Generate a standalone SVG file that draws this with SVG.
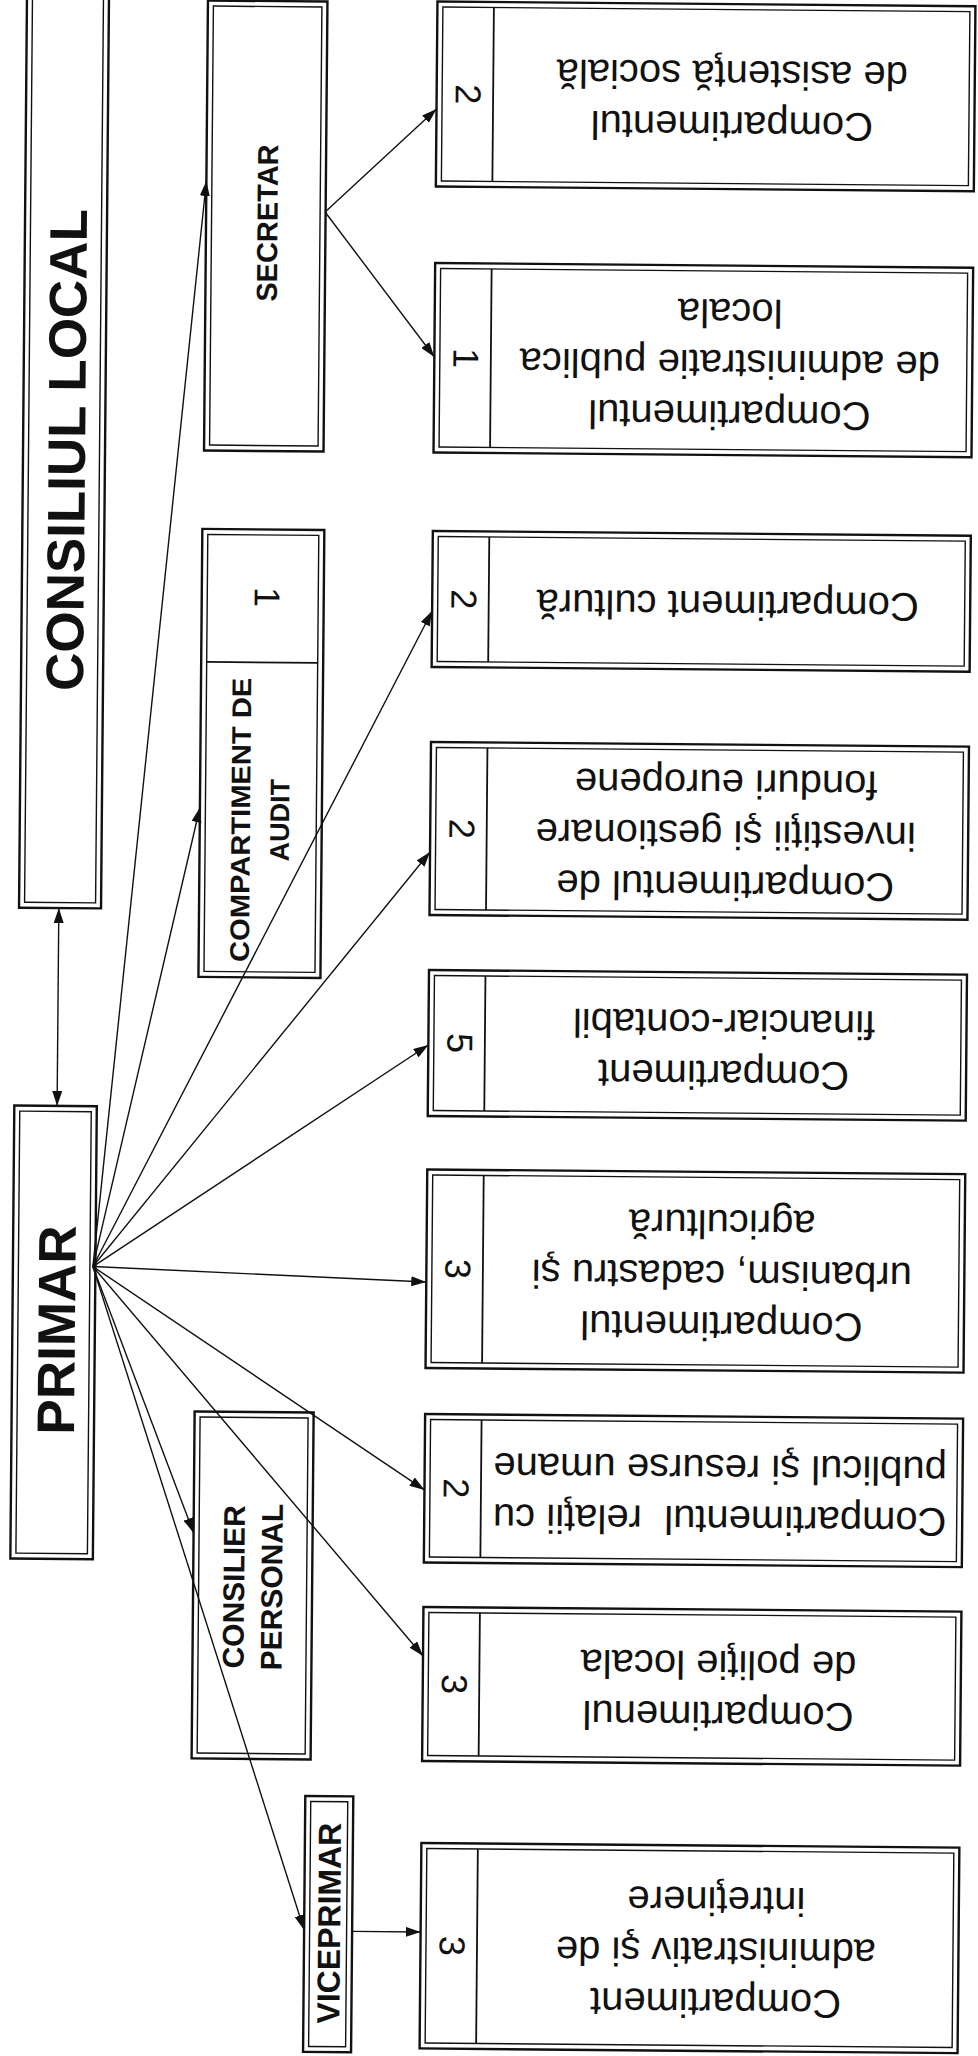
<svg xmlns="http://www.w3.org/2000/svg" width="978" height="2056" viewBox="0 0 978 2056">
<style>
.o{fill:#fff;stroke:#111;stroke-width:2.4}
.i{fill:none;stroke:#111;stroke-width:1.4}
.d{stroke:#111;stroke-width:1.8}
.t{font-family:"Liberation Sans",Arial,sans-serif;font-size:40px;fill:#111;text-anchor:middle;white-space:pre}
.n{font-family:"Liberation Sans",Arial,sans-serif;font-size:36px;fill:#111;text-anchor:middle}
.h{font-family:"Liberation Sans",Arial,sans-serif;font-weight:bold;fill:#111;text-anchor:middle}
.c{fill:none;stroke:#111;stroke-width:1.4;marker-end:url(#a)}
</style>
<defs>
<marker id="a" markerWidth="16" markerHeight="10" refX="15" refY="5" orient="auto-start-reverse" markerUnits="userSpaceOnUse"><path d="M0,0 L15,5 L0,10 z" fill="#111"/></marker>
</defs>
<rect x="0" y="0" width="978" height="2056" fill="#fff"/>
<g transform="rotate(0.5 489 1028)">
<g id="consiliul-local">
<rect class="o" x="18" y="-6" width="82" height="917.8"/>
<rect class="i" x="23.5" y="-0.5" width="71" height="906.8"/>
<text class="h" font-size="53" transform="translate(61 453.7) rotate(-90)" x="0" y="19">CONSILIUL LOCAL</text>
</g>
<g id="primar">
<rect class="o" x="15" y="1109.7" width="82.5" height="453"/>
<rect class="i" x="20.5" y="1115.2" width="71.5" height="442"/>
<text class="h" font-size="53" transform="translate(58.6 1333.7) rotate(-90)" x="0" y="19">PRIMAR</text>
</g>
<g id="secretar">
<rect class="o" x="199" y="3" width="119.5" height="450"/>
<rect class="i" x="204.5" y="8.5" width="108.5" height="439"/>
<text class="h" font-size="29" transform="translate(260 225) rotate(-90)" x="0" y="10.4">SECRETAR</text>
</g>
<g id="audit">
<rect class="o" x="198" y="531.4" width="122" height="448"/>
<rect class="i" x="203.5" y="536.9" width="111" height="437"/>
<line class="d" x1="203.5" y1="664.4" x2="314.5" y2="664.4"/>
<text class="n" transform="translate(262 599) rotate(90)" x="0" y="11">1</text>
<text class="h" font-size="27" transform="translate(259 822) rotate(-90)"><tspan x="0" y="-10.8" textLength="284" lengthAdjust="spacingAndGlyphs">COMPARTIMENT DE</tspan><tspan x="0" y="28.2">AUDIT</tspan></text>
</g>
<g id="consilier-personal">
<rect class="o" x="198" y="1414" width="119" height="347"/>
<rect class="i" x="203.5" y="1419.5" width="108" height="336"/>
<text class="h" font-size="30" transform="translate(258 1589) rotate(-90)"><tspan x="0" y="-9">CONSILIER</tspan><tspan x="0" y="29">PERSONAL</tspan></text>
</g>
<g id="viceprimar">
<rect class="o" x="312" y="1797.5" width="48" height="256"/>
<rect class="i" x="317.5" y="1803" width="37" height="245"/>
<text class="h" font-size="32" transform="translate(336 1924.5) rotate(-90)" x="0" y="12">VICEPRIMAR</text>
</g>
<g id="c-asistenta">
<rect class="o" x="428.5" y="2" width="538" height="185"/>
<rect class="i" x="434" y="7.5" width="527" height="174"/>
<line class="d" x1="485" y1="7.5" x2="485" y2="181.5"/>
<text class="n" transform="translate(460.5 94.5) rotate(90)" x="0" y="12.9">2</text>
<g transform="rotate(180 724 94.5)"><text class="t"><tspan x="724" y="79">Compartimentul</tspan><tspan x="724" y="130">de asistenţă socială</tspan></text></g>
</g>
<g id="c-administratie-publica">
<rect class="o" x="428.5" y="263.5" width="538" height="189.5"/>
<rect class="i" x="434" y="269" width="527" height="178.5"/>
<line class="d" x1="485" y1="269" x2="485" y2="447.5"/>
<text class="n" transform="translate(460.5 358.25) rotate(90)" x="0" y="12.9">1</text>
<g transform="rotate(180 724 358.25)"><text class="t"><tspan x="724" y="317.25">Compartimentul</tspan><tspan x="724" y="368.25">de administratie publica</tspan><tspan x="724" y="419.25">locala</tspan></text></g>
</g>
<g id="c-cultura">
<rect class="o" x="428.5" y="531.5" width="538" height="136"/>
<rect class="i" x="434" y="537" width="527" height="125"/>
<line class="d" x1="485" y1="537" x2="485" y2="662"/>
<text class="n" transform="translate(460.5 599.5) rotate(90)" x="0" y="12.9">2</text>
<g transform="rotate(180 724 599.5)"><text class="t"><tspan x="724" y="609.5">Compartiment cultură</tspan></text></g>
</g>
<g id="c-investitii">
<rect class="o" x="428.5" y="742.5" width="538" height="173"/>
<rect class="i" x="434" y="748" width="527" height="162"/>
<line class="d" x1="485" y1="748" x2="485" y2="910"/>
<text class="n" transform="translate(460.5 829) rotate(90)" x="0" y="12.9">2</text>
<g transform="rotate(180 724 829)"><text class="t"><tspan x="724" y="788">Compartimentul de</tspan><tspan x="724" y="839">investiţii şi gestionare</tspan><tspan x="724" y="890">fonduri europene</tspan></text></g>
</g>
<g id="c-financiar">
<rect class="o" x="428.5" y="970.5" width="538" height="146"/>
<rect class="i" x="434" y="976" width="527" height="135"/>
<line class="d" x1="485" y1="976" x2="485" y2="1111"/>
<text class="n" transform="translate(460.5 1043.5) rotate(90)" x="0" y="12.9">5</text>
<g transform="rotate(180 724 1043.5)"><text class="t"><tspan x="724" y="1028">Compartiment</tspan><tspan x="724" y="1079">financiar-contabil</tspan></text></g>
</g>
<g id="c-urbanism">
<rect class="o" x="428.5" y="1170" width="538" height="198.5"/>
<rect class="i" x="434" y="1175.5" width="527" height="187.5"/>
<line class="d" x1="485" y1="1175.5" x2="485" y2="1363"/>
<text class="n" transform="translate(460.5 1269.25) rotate(90)" x="0" y="12.9">3</text>
<g transform="rotate(180 724 1269.25)"><text class="t"><tspan x="724" y="1228.25">Compartimentul</tspan><tspan x="724" y="1279.25">urbanism, cadastru şi</tspan><tspan x="724" y="1330.25">agricultură</tspan></text></g>
</g>
<g id="c-relatii-publicul">
<rect class="o" x="428.5" y="1414.5" width="538" height="148.5"/>
<rect class="i" x="434" y="1420" width="527" height="137.5"/>
<line class="d" x1="485" y1="1420" x2="485" y2="1557.5"/>
<text class="n" transform="translate(460.5 1488.75) rotate(90)" x="0" y="12.9">2</text>
<g transform="rotate(180 724 1488.75)"><text class="t"><tspan x="724" y="1473.25">Compartimentul  relaţii cu</tspan><tspan x="724" y="1524.25">publicul şi resurse umane</tspan></text></g>
</g>
<g id="c-politie">
<rect class="o" x="428.5" y="1607.5" width="538" height="154"/>
<rect class="i" x="434" y="1613" width="527" height="143"/>
<line class="d" x1="485" y1="1613" x2="485" y2="1756"/>
<text class="n" transform="translate(460.5 1684.5) rotate(90)" x="0" y="12.9">3</text>
<g transform="rotate(180 724 1684.5)"><text class="t"><tspan x="724" y="1669">Compartimenul</tspan><tspan x="724" y="1720">de poliţie locala</tspan></text></g>
</g>
<g id="c-administrativ">
<rect class="o" x="428.5" y="1843.5" width="538" height="205.5"/>
<rect class="i" x="434" y="1849" width="527" height="194.5"/>
<line class="d" x1="485" y1="1849" x2="485" y2="2043.5"/>
<text class="n" transform="translate(460.5 1946.25) rotate(90)" x="0" y="12.9">3</text>
<g transform="rotate(180 724 1946.25)"><text class="t"><tspan x="724" y="1905.25">Compartiment</tspan><tspan x="724" y="1956.25">administrativ şi de</tspan><tspan x="724" y="2007.25">intreţinere</tspan></text></g>
</g>
<g id="connectors">
<line class="c" x1="57.8" y1="1109.7" x2="57.8" y2="911.8" style="marker-start:url(#a)"/>
<line class="c" x1="95" y1="1270" x2="199" y2="183.5"/>
<line class="c" x1="95" y1="1270" x2="198" y2="810"/>
<line class="c" x1="95" y1="1270" x2="428.5" y2="611.5"/>
<line class="c" x1="95" y1="1270" x2="428.5" y2="852.5"/>
<line class="c" x1="95" y1="1270" x2="428.5" y2="1045.5"/>
<line class="c" x1="95" y1="1270" x2="428.5" y2="1282.5"/>
<line class="c" x1="95" y1="1270" x2="428.5" y2="1490.5"/>
<line class="c" x1="95" y1="1270" x2="428.5" y2="1656.5"/>
<line class="c" x1="95" y1="1270" x2="198" y2="1535.5"/>
<line class="c" x1="95" y1="1270" x2="312" y2="1931.5"/>
<line class="c" x1="360" y1="1932.5" x2="428.5" y2="1932.5"/>
<line class="c" x1="318" y1="213.5" x2="428.5" y2="109.5"/>
<line class="c" x1="318" y1="213.5" x2="428.5" y2="357.5"/>
</g>
</g>
</svg>
